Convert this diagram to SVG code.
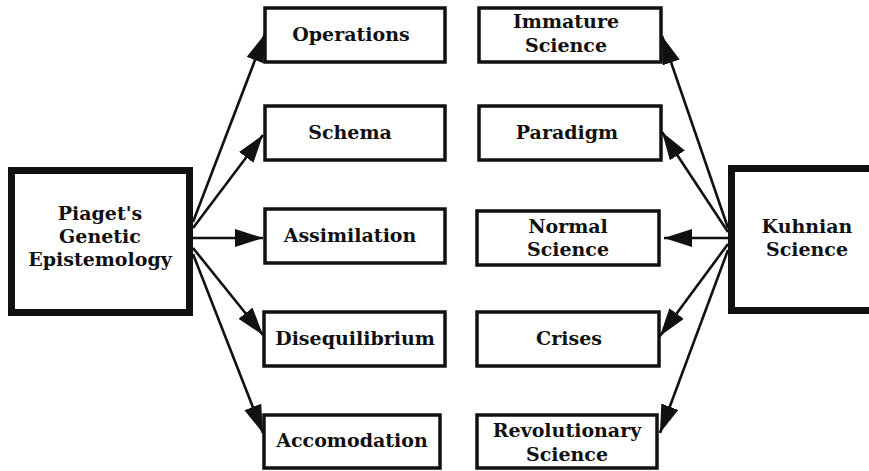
<svg xmlns="http://www.w3.org/2000/svg" width="869" height="471" viewBox="0 0 869 471">
<defs>
<style>
.box{fill:#fff;stroke:#111;stroke-width:3.5}
.big{fill:#fff;stroke:#111;stroke-width:7}
.t{font-family:"DejaVu Serif","Liberation Serif",serif;font-weight:bold;font-size:19px;fill:#111;text-anchor:middle}
.c{stroke:#111;stroke-width:2.6;fill:none;marker-end:url(#ah)}
</style>
<marker id="ah" markerUnits="userSpaceOnUse" markerWidth="32" markerHeight="22" refX="28" refY="9" orient="auto">
<path d="M0,0 L28,9 L0,18 Z" fill="#111"/>
</marker>
</defs>
<rect width="869" height="471" fill="#fff"/>
<g id="connectors">
<line class="c" x1="193" y1="222" x2="265" y2="34"/>
<line class="c" x1="193" y1="228" x2="263" y2="135"/>
<line class="c" x1="193" y1="238" x2="263" y2="238"/>
<line class="c" x1="193" y1="248" x2="263" y2="335"/>
<line class="c" x1="193" y1="254" x2="263" y2="433"/>
<line class="c" x1="728" y1="228" x2="662" y2="36"/>
<line class="c" x1="728" y1="232" x2="662" y2="132"/>
<line class="c" x1="728" y1="238" x2="664" y2="238"/>
<line class="c" x1="728" y1="244" x2="660" y2="336"/>
<line class="c" x1="728" y1="250" x2="660" y2="433"/>
</g>
<g id="piaget">
<rect class="big" x="11.5" y="170.5" width="178" height="142"/>
<text class="t" x="100" y="220">Piaget's</text>
<text class="t" x="100" y="243">Genetic</text>
<text class="t" x="100" y="266">Epistemology</text>
</g>
<g id="operations">
<rect class="box" x="265" y="8" width="180" height="54"/>
<text class="t" x="351" y="41">Operations</text>
</g>
<g id="schema">
<rect class="box" x="265" y="106" width="180" height="54"/>
<text class="t" x="350" y="139">Schema</text>
</g>
<g id="assimilation">
<rect class="box" x="265" y="209" width="180" height="54"/>
<text class="t" x="350" y="242">Assimilation</text>
</g>
<g id="disequilibrium">
<rect class="box" x="264" y="312" width="181" height="54"/>
<text class="t" x="355" y="345">Disequilibrium</text>
</g>
<g id="accomodation">
<rect class="box" x="264" y="415" width="176" height="53"/>
<text class="t" x="352" y="447">Accomodation</text>
</g>
<g id="immature">
<rect class="box" x="479" y="8" width="182" height="54"/>
<text class="t" x="566" y="28">Immature</text>
<text class="t" x="566" y="52">Science</text>
</g>
<g id="paradigm">
<rect class="box" x="479" y="106" width="182" height="54"/>
<text class="t" x="567" y="139">Paradigm</text>
</g>
<g id="normal">
<rect class="box" x="477" y="211" width="182" height="54"/>
<text class="t" x="568" y="233">Normal</text>
<text class="t" x="568" y="256">Science</text>
</g>
<g id="crises">
<rect class="box" x="477" y="312" width="182" height="54"/>
<text class="t" x="569" y="345">Crises</text>
</g>
<g id="revolutionary">
<rect class="box" x="477" y="415" width="180" height="53"/>
<text class="t" x="567" y="437">Revolutionary</text>
<text class="t" x="567" y="461">Science</text>
</g>
<g id="kuhnian">
<rect class="big" x="731.5" y="168.5" width="145" height="142"/>
<text class="t" x="807" y="233">Kuhnian</text>
<text class="t" x="807" y="256">Science</text>
</g>
</svg>
